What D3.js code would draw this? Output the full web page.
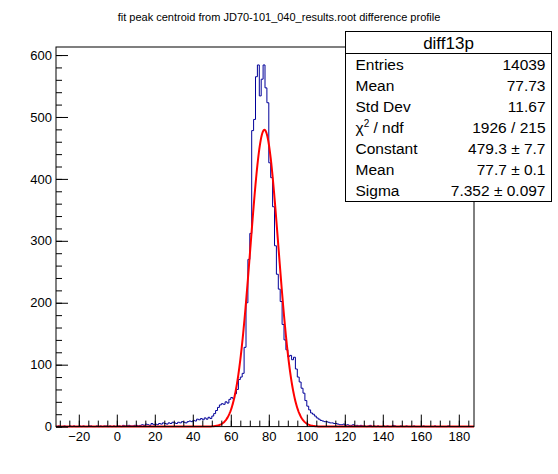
<!DOCTYPE html>
<html lang="en">
<head>
<meta charset="UTF-8">
<title>diff13p</title>
<style>
  body { margin: 0; background: #fff; }
  svg { display: block; font-family: 'Liberation Sans', Arial, sans-serif; }
  .axis text { font-size: 13px; fill: #000; }
  .axis line { stroke: #000; }
</style>
</head>
<body>
<script src="https://cdn.jsdelivr.net/npm/d3@7"></script>
<script>
// histogram: 1-unit bins starting at -32
var binLow   = -32;
var binWidth = 1;
var counts = [
  0,1,0,0,1,0,0,1,0,1, 0,0,1,0,1,0,0,1,1,0, 0,1,0,1,0,1,1,0,1,0, 1,0,   // -32 .. -1
  1,1,0,2,1,1,2,1,1,2,          // 0
  2,1,2,3,2,4,3,2,5,3,          // 10
  4,3,5,4,6,5,4,6,5,7,          // 20
  6,5,7,6,8,7,6,8,9,8,          // 30
  10,9,12,11,13,11,14,12,15,13, // 40
  17,21,26,31,35,37,36,40,38,44,          // 50
  47,45,53,60,76,80,86,128,200,270,       // 60
  312,478,496,565,584,534,561,584,547,523,// 70
  426,402,355,292,246,222,202,165,140,124,// 80
  113,115,108,112,93,80,72,62,54,42,      // 90
  33,27,22,20,17,14,12,10,9,8,  // 100
  8,7,6,6,5,5,4,3,3,4,          // 110
  2,3,2,2,3,1,2,1,2,1,          // 120
  1,0,1,2,0,1,0,1,0,0,          // 130
  1,0,1,0,0,2,1,0,0,1,          // 140
  0,0,1,0,0,0,1,0,0,0,          // 150
  0,1,0,0,0,0,0,1,0,0,          // 160
  0,0,0,0,1,0,0,0,0,0,          // 170
  0,0,0,0,0,0,0,0               // 180 .. 187
];

// gaussian fit parameters (from stats box)
var fitConst = 479.3, fitMean = 77.7, fitSigma = 7.352;

var xDomain = [-32, 188];
var yDomain = [0, 613];
var xMajor = d3.range(-20, 181, 20);
var xMinor = d3.range(-30, 188, 5);
var yMajor = d3.range(0, 601, 100);
var yMinor = d3.range(0, 613, 20);

var statLabels = ['Entries', 'Mean', 'Std Dev', 'chi2', 'Constant', 'Mean', 'Sigma'];
var statValues = ['14039', '77.73', '11.67', '1926 / 215', '479.3 \u00b1 7.7', '77.7 \u00b1 0.1', '7.352 \u00b1 0.097'];

var title = 'fit peak centroid from JD70-101_040_results.root difference profile';

var W = 558, H = 474;
var fl = 56, fr = 474, ft = 47, fb = 426.6;

var svg = d3.select('body').append('svg').attr('width', W).attr('height', H);

var x = d3.scaleLinear().domain(xDomain).range([fl, fr]);
var y = d3.scaleLinear().domain(yDomain).range([fb, ft]);

// title
svg.append('text').attr('x', W / 2).attr('y', 21).attr('text-anchor', 'middle')
  .style('font-size', '11px').text(title);

// histogram outline
var pts = [[x(binLow), y(0)]];
counts.forEach(function (c, i) {
  var x0 = binLow + i * binWidth;
  pts.push([x(x0), y(c)]);
  pts.push([x(x0 + binWidth), y(c)]);
});
pts.push([x(binLow + counts.length * binWidth), y(0)]);
svg.append('path').attr('d', d3.line()(pts))
  .attr('fill', 'none').attr('stroke', '#000099').attr('stroke-width', 1);

// fit curve
var fx = d3.range(xDomain[0], xDomain[1] + 0.001, 0.25);
svg.append('path')
  .attr('d', d3.line()
    .x(function (d) { return x(d); })
    .y(function (d) { return y(fitConst * Math.exp(-0.5 * Math.pow((d - fitMean) / fitSigma, 2))); })(fx))
  .attr('fill', 'none').attr('stroke', '#ff0000').attr('stroke-width', 2);

// axes (ticks inside the frame)
svg.append('g').attr('class', 'axis').attr('transform', 'translate(0,' + fb + ')')
  .call(d3.axisBottom(x).tickValues(xMinor).tickSize(-6).tickFormat(''))
  .call(function (g) { g.select('.domain').remove(); });
svg.append('g').attr('class', 'axis').attr('transform', 'translate(0,' + fb + ')')
  .call(d3.axisBottom(x).tickValues(xMajor).tickSize(-12).tickPadding(5)
    .tickFormat(function (d) { return d < 0 ? '\u2212' + (-d) : d; }))
  .call(function (g) { g.select('.domain').remove(); });

svg.append('g').attr('class', 'axis').attr('transform', 'translate(' + fl + ',0)')
  .call(d3.axisLeft(y).tickValues(yMinor).tickSize(-6).tickFormat(''))
  .call(function (g) { g.select('.domain').remove(); });
svg.append('g').attr('class', 'axis').attr('transform', 'translate(' + fl + ',0)')
  .call(d3.axisLeft(y).tickValues(yMajor).tickSize(-12).tickPadding(4))
  .call(function (g) { g.select('.domain').remove(); });

// frame
svg.append('rect').attr('x', fl).attr('y', ft).attr('width', fr - fl).attr('height', fb - ft)
  .attr('fill', 'none').attr('stroke', '#000').attr('stroke-width', 1);

// stats box
var bx = 345.5, by = 31.5, bw = 206, bh = 170, hh = 22;
var box = svg.append('g');
box.append('rect').attr('x', bx).attr('y', by).attr('width', bw).attr('height', bh)
  .attr('fill', '#fff').attr('stroke', '#000');
box.append('line').attr('x1', bx).attr('x2', bx + bw).attr('y1', by + hh).attr('y2', by + hh).attr('stroke', '#000');
box.append('text').attr('x', bx + bw / 2).attr('y', by + 17).attr('text-anchor', 'middle')
  .style('font-size', '17px').text('diff13p');

var rowH = (bh - hh) / statLabels.length;
statLabels.forEach(function (lab, i) {
  var yy = by + hh + rowH * (i + 0.5) + 5.5;
  var t = box.append('text').attr('x', bx + 10).attr('y', yy).style('font-size', '15.5px');
  if (lab === 'chi2') {
    t.append('tspan').text('\u03c7');
    t.append('tspan').attr('dy', -6).style('font-size', '10px').text('2');
    t.append('tspan').attr('dy', 6).text(' / ndf');
  } else {
    t.text(lab);
  }
  box.append('text').attr('x', bx + bw - 6).attr('y', yy).attr('text-anchor', 'end')
    .style('font-size', '15.5px').text(statValues[i]);
});
</script>
</body>
</html>
